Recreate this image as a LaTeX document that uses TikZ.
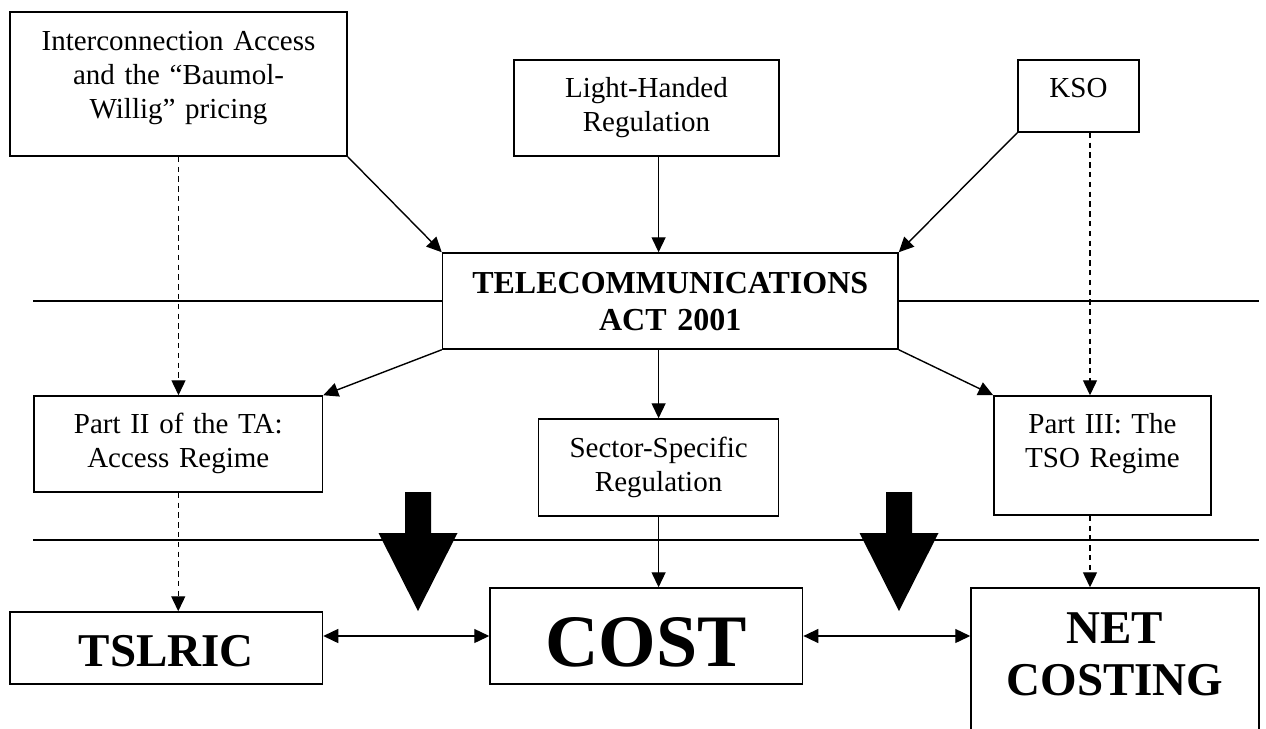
\documentclass[tikz,border=0pt]{standalone}
\usepackage{fontspec}
\setmainfont{Liberation Serif}
\usetikzlibrary{arrows.meta}

\begin{document}
\begin{tikzpicture}[x=0.5pt, y=-0.5pt]
      \tikzstyle{box}=[rectangle, draw=black, line width=0.75pt, inner sep=0pt, align=center, text height=10pt, font=\fontsize{14.5}{17}\selectfont]
      \tikzstyle{bigbox}=[box, font=\bfseries\fontsize{23.5}{26}\selectfont]
      \tikzstyle{connect}=[-{Triangle[length=7.5pt, width=7pt]}, line width=0.7pt]
      \tikzstyle{both}=[{Triangle[length=7.5pt, width=7pt]}-{Triangle[length=7.5pt, width=7pt]}, line width=0.7pt]
      \tikzstyle{dashconnect}=[connect, dash pattern=on 2.7pt off 2.2pt]
      \tikzstyle{rule}=[line width=0.7pt]

      \path[use as bounding box, clip] (0,0) rectangle (1266,729);

      % sources
      \node[box, text width=168.5pt, minimum height=72pt, text depth=43.8pt] (inter) at (178.5,84) {Interconnection Access\\and the ``Baumol-\\Willig'' pricing};
      \node[box, text width=132.5pt, minimum height=48pt, text depth=20.3pt] (light) at (646.5,108) {Light-Handed\\Regulation};
      \node[box, text width=60.5pt, minimum height=36pt, text depth=8.4pt] (kso) at (1078.5,96) {KSO};

      % the act
      \node[box, font=\bfseries\fontsize{16}{18.5}\selectfont, text width=227.75pt, minimum height=48pt, text height=12pt, text depth=19.9pt] (act) at (670.25,301) {TELECOMMUNICATIONS\\ACT 2001};

      % regimes
      \node[box, text width=144.25pt, minimum height=48pt, text depth=20.8pt] (part2) at (178.25,444) {Part II of the TA:\\Access Regime};
      \node[box, text width=120pt, minimum height=48.5pt, text depth=19.8pt] (sector) at (658.6,467.5) {Sector-Specific\\Regulation};
      \node[box, text width=108.5pt, minimum height=59.5pt, text depth=32.3pt] (part3) at (1102.5,455.5) {Part III: The\\TSO Regime};

      % costing
      \node[bigbox, text width=156.25pt, minimum height=36pt, text height=18.3pt, text depth=0pt] (tslric) at (166.25,648) {TSLRIC};
      \node[bigbox, font=\bfseries\fontsize{37}{40}\selectfont, text width=156.3pt, minimum height=48pt, text height=30.4pt, text depth=0pt] (cost) at (646.3,636) {COST};
      \node[bigbox, text width=144pt, minimum height=91pt, text height=17pt, text depth=52.4pt] (net) at (1115,679) {NET\\COSTING};

      % rules
      \coordinate (r1w) at (33,301);
      \coordinate (r1e) at (1259,301);
      \coordinate (r2w) at (33,540);
      \coordinate (r2e) at (1259,540);
      \coordinate (tsoline) at (1090,0);
      \draw[rule] (r1w) -- (act.west);
      \draw[rule] (act.east) -- (r1e);
      \draw[rule] (r2w) -- (r2e);

      \path (inter.south east) edge [connect] (act.north west)
        (light.south -| sector) edge [connect] (act.north -| sector)
        (kso.south west) edge [connect] (act.north east);

      \path (act.south west) edge [connect] (part2.north east)
        (act.south -| sector) edge [connect] (sector.north)
        (act.south east) edge [connect] (part3.north west);

      \path (sector.south) edge [connect] (cost.north -| sector);

      \path (inter.south) edge [dashconnect] (part2.north -| inter.south)
        (part2.south) edge [dashconnect] (tslric.north -| part2.south)
        (kso.south -| tsoline) edge [dashconnect] (part3.north -| tsoline)
        (part3.south -| tsoline) edge [dashconnect] (net.north -| tsoline);

      \path (tslric.east |- cost.west) edge [both] (cost.west)
        (cost.east) edge [both] (net.west |- cost.east);

      % big arrows
      \foreach \x in {418, 899}
        \fill (\x-13,492) -- (\x+13,492) -- (\x+13,533) -- (\x+39.5,533) -- (\x,611) -- (\x-39.5,533) -- (\x-13,533) -- cycle;

    \end{tikzpicture}
\end{document}
